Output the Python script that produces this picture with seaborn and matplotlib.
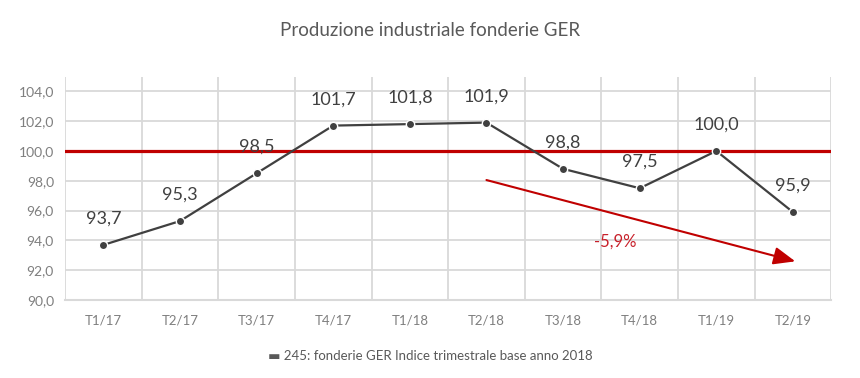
import pandas as pd
import matplotlib.pyplot as plt
import seaborn as sns

quarters = ["T1/17", "T2/17", "T3/17", "T4/17", "T1/18", "T2/18", "T3/18", "T4/18", "T1/19", "T2/19"]
index_values = [93.7, 95.3, 98.5, 101.7, 101.8, 101.9, 98.8, 97.5, 100.0, 95.9]
series_name = "245: fonderie GER Indice trimestrale base anno 2018"
base_level = 100.0
trend_label = "-5,9%"

df = pd.DataFrame({"Quarter": quarters, "Index": index_values, "Serie": series_name})
df["pos"] = range(len(df))

sns.set_theme(style="whitegrid")
plt.rcParams['font.family'] = ['Lato', 'DejaVu Sans']

fig = plt.figure(figsize=(8.6, 3.78), dpi=100)
ax = fig.add_axes([0.0756, 0.206, 0.891, 0.59])

line_col = "#404040"
red = "#C00000"

ax.axhline(base_level, color=red, lw=2.3, zorder=2)

sns.lineplot(x="pos", y="Index", data=df, sort=False, color=line_col, lw=1.6,
             marker="o", markersize=6, markeredgecolor="white", markeredgewidth=1,
             ax=ax, legend=False, zorder=3)

for i, v in enumerate(index_values):
    ax.annotate(f"{v:.1f}".replace(".", ","), (i, v), xytext=(0, 19), textcoords="offset points",
                ha="center", va="center", fontsize=13, color=line_col)

# trend arrow from T2/18 to T2/19
ax.annotate("", xy=(9.03, 92.6), xytext=(5.0, 98.05),
            arrowprops=dict(arrowstyle="-|>,head_length=1.1,head_width=0.45", color=red, lw=1.5,
                            shrinkA=0, shrinkB=0))
ax.text(6.68, 93.9, trend_label, color="#C8202A", fontsize=12, ha="center", va="center")

ax.set_xlim(-0.5, 9.5)
ax.set_ylim(90, 104.95)
ax.set_yticks(range(90, 105, 2))
ax.set_yticklabels([f"{t:.1f}".replace(".", ",") for t in range(90, 105, 2)], fontsize=10, color="#7f7f7f")
ax.set_xticks([i + 0.5 for i in range(-1, 10)], minor=False)
ax.set_xticks(range(10), minor=True)
ax.set_xticklabels([])
ax.set_xticklabels(quarters, minor=True, fontsize=9.5, color="#7f7f7f")
ax.tick_params(axis="x", which="both", length=0, pad=10)
ax.tick_params(axis="y", length=0, pad=8)
ax.grid(True, which="major", color="#d9d9d9", lw=1.3)
ax.grid(False, which="minor")
ax.set_xlabel("")
ax.set_ylabel("")
for s in ["top", "right", "left"]:
    ax.spines[s].set_visible(False)
ax.spines["bottom"].set_color("#d9d9d9")
ax.spines["bottom"].set_linewidth(1.5)

fig.text(0.5, 0.92, "Produzione industriale fonderie GER", ha="center", va="center",
         fontsize=13.5, color="#595959")
fig.text(0.5, 0.058, "\u25AC " + series_name, ha="center", va="center", fontsize=9.5, color="#595959")

fig.savefig("out.png", dpi=100, facecolor="white")
